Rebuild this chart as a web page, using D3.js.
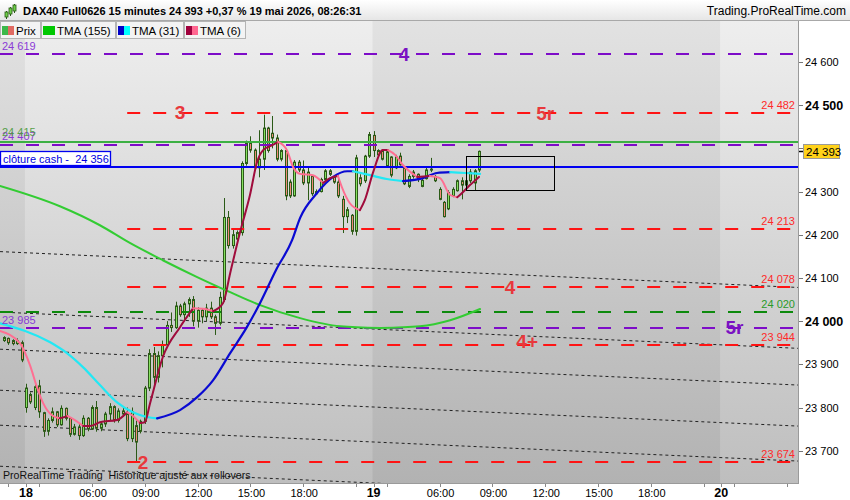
<!DOCTYPE html>
<html><head><meta charset="utf-8">
<script src="https://cdn.jsdelivr.net/npm/d3@7"></script>
<style>body{margin:0;background:#fff;} svg{display:block;font-family:"Liberation Sans",Arial,sans-serif;} .pre{white-space:pre;}</style>
</head><body><svg id="c" width="850" height="500"></svg>
<script>
// ---------- DATA ----------
const titleText = "DAX40 Full0626 15 minutes 24 393 +0,37 % 19 mai 2026, 08:26:31";
const siteText = "Trading.ProRealTime.com";
const footText = "ProRealTime Trading  Historique ajusté aux rollovers";
const legendLabels = ["Prix", "TMA (155)", "TMA (31)", "TMA (6)"];

// 15-minute candles, index 0 = first candle of the 18th
const firstIndex = -5;
const opens  = [23955,23960,23955,23948,23950, 23800,23830,23800,23850,23788,23745,23770,23790,23760,23798,23775,23738,23755,23735,23775,23750,23800,23752,23762,23785,23802,23770,23792,23785,23728,23758,23745,23768,23845,23925,23870,23920,23945,23990,23985,24035,24015,24040,24050,24000,24025,24010,24030,24010,23995,24050,24240,24175,24190,24205,24365,24412,24396,24355,24375,24447,24435,24424,24375,24395,24322,24290,24368,24350,24320,24335,24295,24300,24328,24348,24333,24322,24282,24242,24245,24208,24332,24325,24382, 24430,24395,24395,24360,24380,24355,24382,24355,24312,24335,24340,24312,24330,24350,24335,24305,24275,24260,24290,24302,24325,24315,24325,24320,24350];
const highs  = [23965,23962,23958,23960,23955, 23855,23835,23852,23864,23790,23775,23800,23792,23805,23800,23778,23762,23762,23782,23778,23805,23815,23768,23790,23810,23805,23798,23800,23800,23800,23770,23772,23850,23935,23940,23930,23955,24000,24020,24045,24040,24045,24055,24058,24032,24030,24040,24045,24015,24068,24285,24255,24215,24210,24370,24418,24428,24400,24442,24478,24450,24475,24432,24398,24400,24328,24373,24373,24372,24355,24338,24305,24332,24352,24352,24336,24336,24290,24264,24248,24385,24340,24385,24438, 24440,24398,24398,24396,24382,24385,24390,24357,24340,24350,24342,24330,24355,24378,24338,24310,24278,24303,24310,24328,24333,24330,24352,24352,24395];
const lows   = [23952,23945,23944,23945,23905, 23788,23808,23794,23776,23732,23735,23765,23755,23758,23770,23732,23735,23725,23732,23745,23748,23744,23745,23755,23770,23765,23765,23778,23722,23720,23674,23740,23762,23838,23848,23858,23893,23940,23975,23982,24010,24005,24010,23988,23985,23995,24000,24005,23968,23990,24045,24168,24168,24180,24198,24360,24390,24350,24333,24350,24390,24400,24370,24370,24280,24285,24288,24345,24315,24280,24290,24293,24298,24325,24336,24318,24285,24204,24227,24200,24198,24312,24320,24378, 24380,24378,24372,24355,24333,24352,24360,24315,24308,24330,24322,24310,24328,24345,24322,24280,24240,24257,24287,24300,24282,24312,24320,24303,24345];
const closes = [23962,23950,23948,23955,23910, 23845,23813,23848,23790,23745,23770,23790,23760,23798,23775,23738,23755,23735,23775,23750,23800,23752,23762,23785,23802,23770,23792,23785,23728,23790,23720,23768,23845,23925,23870,23920,23945,23990,23985,24035,24015,24040,24050,24000,24025,24010,24030,24010,23995,24055,24240,24175,24200,24205,24365,24412,24396,24355,24375,24447,24395,24424,24375,24395,24290,24290,24368,24350,24320,24345,24295,24300,24328,24348,24340,24322,24290,24242,24258,24208,24378,24318,24382,24432, 24395,24385,24375,24392,24338,24380,24362,24318,24335,24345,24328,24326,24350,24352,24325,24282,24242,24298,24305,24325,24315,24325,24345,24348,24393];

// moving averages: [candle index, value]
const tma155 = [[-5.9,24313],[7.7,24266],[16.8,24222],[23.6,24181],[31.1,24141],[38.9,24102],[46.4,24067],[53.2,24037],[62.3,24007],[71.4,23988],[80.5,23984],[89.5,23988],[96.4,24002],[103.2,24028]];
const tma31 = [[-5.9,23995],[5.5,23951],[9.3,23926],[13.0,23893],[16.8,23852],[20.7,23812],[24.3,23789],[27.5,23778],[29.8,23775],[35.0,23794],[38.9,23824],[42.5,23863],[46.4,23926],[50.2,23986],[53.2,24042],[56.8,24118],[60.5,24188],[62.3,24239],[66.1,24296],[69.8,24334],[73.0,24347],[74.3,24347],[78.2,24338],[82.0,24329],[85.7,24324],[90.2,24331],[93.4,24343],[96.4,24345],[99.8,24343],[103.2,24341]];
const tma6 = [[-5.9,23977],[-1.4,23949],[0.9,23898],[2.5,23847],[3.9,23810],[5.9,23782],[7.7,23775],[9.5,23780],[11.1,23771],[13.0,23757],[14.5,23757],[16.8,23766],[20.7,23771],[23.0,23789],[24.1,23782],[25.9,23764],[27.0,23766],[28.2,23810],[31.1,23917],[35.0,23986],[38.0,24030],[40.7,24028],[42.5,24023],[44.8,24042],[46.4,24111],[48.6,24204],[50.9,24292],[52.5,24368],[53.9,24396],[56.1,24408],[57.3,24415],[59.3,24396],[60.7,24357],[62.3,24341],[65.2,24338],[67.5,24320],[69.1,24331],[70.9,24336],[71.8,24310],[73.6,24273],[75.9,24257],[77.0,24280],[78.9,24345],[81.1,24396],[82.3,24396],[83.9,24385],[85.7,24361],[88.9,24334],[91.8,24336],[94.1,24331],[96.4,24292],[98.0,24287],[98.6,24292],[100.9,24315],[102.95,24334]];

// horizontal levels
const levelValues = [24619, 24482, 24407, 24213, 24078, 24020, 23985, 23944, 23674];
const levelKinds  = ["purple","red","purple","red","red","green","purple","red","red"];
const redStartIdx = 23;
const solidValues = [24415, 24356];
const solidKinds  = ["green","blue"];
const cashLabel = "clôture cash -  24 356";

// annotations on the chart
const annoTexts  = ["4","3","5r","4","5r","4+","2"];
const annoIdx    = [85.9, 35, 118, 110, 161, 113.9, 26.6];
const annoValues = [24619, 24484, 24482, 24078, 23985, 23954, 23674];
const annoKinds  = ["purple","red","red","red","purple","red","red"];

// dotted channel lines (value at start index, value at end index)
const channelIdx = [-5.9, 175.5];
const channelStart = [24161, 24021, 23935, 23840, 23759, 23664];
const channelEnd   = [24078, 23937, 23852, 23757, 23676, 23581];

// rectangle drawing
const boxIdx = [100, 120];
const boxValues = [24382, 24303];

// axes
const yTicks = [23700,23800,23900,24000,24100,24200,24300,24400,24500,24600];
const yBold = [24000, 24500];
const lastPrice = 24393;
const dayIdx = [0, 79, 158];
const dayLabels = ["18","19","20"];
const hourIdx = [15,27,39,51,63, 94,106,118,130,142];
const hourLabels = ["06:00","09:00","12:00","15:00","18:00","06:00","09:00","12:00","15:00","18:00"];
const minorTickIdx = [-4,3,75,82,154,161,173];

// ---------- DRAW ----------
const W=850, H=500, plotR=798, plotT=21, plotB=483;
const svg = d3.select("#c");
const x = d3.scaleLinear().domain([0,158]).range([26,721.2]);
const y = d3.scaleLinear().domain([23700,24600]).range([450.7,62]);
const fmt = v => d3.format(",")(v).replace(/,/g," ");

const defs = svg.append("defs");
function grad(id,c0,c1){const g=defs.append("linearGradient").attr("id",id).attr("x1",0).attr("y1",0).attr("x2",0).attr("y2",1);
  g.append("stop").attr("offset","0%").attr("stop-color",c0); g.append("stop").attr("offset","100%").attr("stop-color",c1);}
grad("bandLight","#eeeeee","#bebebe");
grad("bandDark","#e2e2e2","#b2b2b2");
grad("hdr","#ffffff","#e6e6e6");
defs.append("clipPath").attr("id","pc").append("rect").attr("x",0).attr("y",plotT).attr("width",plotR).attr("height",plotB-plotT);

svg.append("rect").attr("width",W).attr("height",H).attr("fill","#fff");
const plot = svg.append("g").attr("clip-path","url(#pc)");
plot.append("rect").attr("x",0).attr("y",plotT).attr("width",plotR).attr("height",plotB-plotT).attr("fill","url(#bandLight)");
// darker sessions: day before the 18th and the 19th
[[-30, dayIdx[0]],[dayIdx[1], dayIdx[2]]].forEach(([a,b])=>{
  plot.append("rect").attr("x",x(a-0.25)).attr("y",plotT).attr("width",x(b-0.25)-x(a-0.25)).attr("height",plotB-plotT).attr("fill","url(#bandDark)");
});

// channel lines
channelStart.forEach((v,k)=>{
  plot.append("line").attr("x1",x(channelIdx[0])).attr("y1",y(v)).attr("x2",x(channelIdx[1])).attr("y2",y(channelEnd[k]))
    .attr("stroke","#222").attr("stroke-width",1).attr("stroke-dasharray","3,3");
});

// candles
const cg = plot.append("g");
opens.forEach((o,k)=>{
  const i = firstIndex+k, h=highs[k], l=lows[k], c=closes[k];
  const cx = Math.round(x(i))+0.5;
  cg.append("line").attr("x1",cx).attr("x2",cx).attr("y1",y(h)).attr("y2",y(l)).attr("stroke","#2b5a17").attr("stroke-width",1);
  const top=y(Math.max(o,c)), bot=y(Math.min(o,c));
  cg.append("rect").attr("x",cx-1).attr("y",top).attr("width",2).attr("height",Math.max(1,bot-top))
    .attr("fill", c>=o ? "#86e060" : "#ef8a78").attr("stroke","#2b5a17").attr("stroke-width",1);
});

// levels
const lvlColor = {purple:"#7d0cc8", red:"#ff1414", green:"#0d8a0d"};
const lvlText  = {purple:"#8a3ad6", red:"#ff2a2a", green:"#2a9a2a"};
levelValues.forEach((v,k)=>{
  const kind = levelKinds[k];
  const x0 = kind==="red" ? x(redStartIdx) : 0;
  const yy = Math.round(y(v));
  plot.append("line").attr("x1",x0).attr("x2",plotR).attr("y1",yy).attr("y2",yy)
    .attr("stroke",lvlColor[kind]).attr("stroke-width",2).attr("stroke-dasharray","13,13");
});
const solidColor = {green:"#3cb043", blue:"#0000f0"};
solidValues.forEach((v,k)=>{
  const yy = Math.round(y(v));
  plot.append("line").attr("x1",0).attr("x2",plotR).attr("y1",yy).attr("y2",yy).attr("stroke",solidColor[solidKinds[k]]).attr("stroke-width",2);
});

// moving averages
const lineGen = d3.line().x(d=>x(d[0])).y(d=>y(d[1])).curve(d3.curveMonotoneX);
function drawMA(pts, upC, downC, w){
  const runs=[]; let cur=[pts[0]], dir=null;
  for(let k=1;k<pts.length;k++){
    const d = pts[k][1]>=pts[k-1][1] ? "up":"down";
    if(dir===null||d===dir){cur.push(pts[k]); dir=d;}
    else {runs.push({dir,pts:cur}); cur=[pts[k-1],pts[k]]; dir=d;}
  }
  runs.push({dir,pts:cur});
  runs.forEach(r=>plot.append("path").attr("d",lineGen(r.pts)).attr("fill","none")
    .attr("stroke", r.dir==="up"?upC:downC).attr("stroke-width",w).attr("stroke-linecap","round"));
}
drawMA(tma155,"#33cc33","#33cc33",2);
drawMA(tma31,"#0a0ad2","#22e8f4",2.2);
drawMA(tma6,"#a00c3c","#ff6f92",2);

// box
plot.append("rect").attr("x",Math.round(x(boxIdx[0]))+0.5).attr("y",Math.round(y(boxValues[0]))+0.5)
  .attr("width",Math.round(x(boxIdx[1])-x(boxIdx[0]))).attr("height",Math.round(y(boxValues[1])-y(boxValues[0])))
  .attr("fill","none").attr("stroke","#000").attr("stroke-width",1);

// level labels
levelValues.forEach((v,k)=>{
  const kind=levelKinds[k], yy=Math.round(y(v));
  if(kind==="purple"){
    plot.append("text").attr("x",2).attr("y",yy-(v===24407?5:4)).attr("font-size",11).attr("fill",lvlText.purple).text(fmt(v));
  } else {
    plot.append("text").attr("x",795).attr("y",yy-4).attr("text-anchor","end").attr("font-size",11).attr("fill",lvlText[kind]).text(fmt(v));
  }
});
plot.append("text").attr("x",2).attr("y",Math.round(y(solidValues[0]))-6).attr("font-size",11).attr("fill","#4a9a3a").attr("opacity",0.9).text(fmt(solidValues[0]));
// cash label box
const cy = Math.round(y(solidValues[1]));
plot.append("rect").attr("x",0.5).attr("y",cy-15.5).attr("width",110).attr("height",14).attr("fill","#fff").attr("stroke","#0000f0").attr("stroke-width",1.3);
plot.append("text").attr("class","pre").attr("x",3).attr("y",cy-4.5).attr("font-size",11).attr("fill","#0000e0").text(cashLabel);

// annotations
const annoColor = {purple:"#7a12c2", red:"#e8383c"};
annoTexts.forEach((t,k)=>{
  plot.append("text").attr("x",x(annoIdx[k])).attr("y",y(annoValues[k])).attr("dy","0.36em").attr("text-anchor","middle")
    .attr("font-size",19).attr("font-weight","bold").attr("fill",annoColor[annoKinds[k]]).text(t);
});

// footer text in plot
plot.append("text").attr("class","pre").attr("x",3).attr("y",479).attr("font-size",10.6).attr("fill","#111").text(footText);

// ---------- header ----------
svg.append("rect").attr("x",0).attr("y",0).attr("width",W).attr("height",20).attr("fill","url(#hdr)");
svg.append("line").attr("x1",0).attr("x2",W).attr("y1",20.5).attr("y2",20.5).attr("stroke","#a8a8a8");
// icon
[[6,10,15,8,17],[10,6,12,4,14],[14,3,9,1,11]].forEach(([cx,t,b,wt,wb])=>{
  svg.append("line").attr("x1",cx+0.5).attr("x2",cx+0.5).attr("y1",wt+3).attr("y2",wb+2).attr("stroke","#2b5a17");
  svg.append("rect").attr("x",cx-1).attr("y",t+2).attr("width",3).attr("height",b-t).attr("fill","#6fcf4a").attr("stroke","#2b5a17").attr("stroke-width",0.8);
});
svg.append("text").attr("x",23).attr("y",15).attr("font-size",11).attr("font-weight","bold").attr("fill","#000").text(titleText);
svg.append("text").attr("x",846).attr("y",15).attr("text-anchor","end").attr("font-size",12).attr("fill","#000").text(siteText);

// legend
const legColors = [["#3cb84a","#e06a62"],["#00c800","#00c800"],["#0000c8","#00ffff"],["#a0003c","#ff6690"]];
let bx = 0;
legendLabels.forEach((lab,k)=>{
  const g = svg.append("g");
  const r = g.append("rect").attr("x",bx+0.5).attr("y",21.5).attr("height",17).attr("fill","#f3f3f3").attr("stroke","#b4b4b4");
  g.append("rect").attr("x",bx+2).attr("y",26).attr("width",6).attr("height",9).attr("fill",legColors[k][0]);
  g.append("rect").attr("x",bx+8).attr("y",26).attr("width",6).attr("height",9).attr("fill",legColors[k][1]);
  const t = g.append("text").attr("x",bx+16).attr("y",34.5).attr("font-size",11.5).attr("fill","#000").text(lab);
  const w = t.node().getComputedTextLength();
  const bw = Math.round(16 + w + 4);
  r.attr("width",bw);
  bx += bw + 1;
});

// ---------- right axis ----------
svg.append("rect").attr("x",plotR).attr("y",plotT).attr("width",W-plotR).attr("height",plotB-plotT).attr("fill","#fff");
svg.append("line").attr("x1",plotR+0.5).attr("x2",plotR+0.5).attr("y1",plotT).attr("y2",plotB).attr("stroke","#9a9a9a");
yTicks.forEach(v=>{
  const yy=Math.round(y(v))+0.5;
  svg.append("line").attr("x1",plotR+1).attr("x2",plotR+5).attr("y1",yy).attr("y2",yy).attr("stroke","#777");
  const b = yBold.includes(v);
  svg.append("text").attr("x",805).attr("y",yy).attr("dy","0.36em").attr("font-size",b?12.5:11).attr("font-weight",b?"bold":"normal").attr("fill","#000").text(fmt(v));
});
const py = Math.round(y(lastPrice));
svg.append("line").attr("x1",plotR+1).attr("x2",plotR+5).attr("y1",py+0.5).attr("y2",py+0.5).attr("stroke","#000").attr("stroke-width",1.5);
svg.append("rect").attr("x",803.5).attr("y",py-6.5).attr("width",36).attr("height",14).attr("fill","#ffd21a").attr("stroke","#9a9a9a");
svg.append("text").attr("x",806).attr("y",py+0.5).attr("dy","0.36em").attr("font-size",11.5).attr("fill","#000").text(fmt(lastPrice));

// ---------- bottom axis ----------
svg.append("rect").attr("x",0).attr("y",plotB).attr("width",W).attr("height",H-plotB).attr("fill","#fff");
svg.append("line").attr("x1",0).attr("x2",plotR+1).attr("y1",plotB+0.5).attr("y2",plotB+0.5).attr("stroke","#9a9a9a");
dayIdx.concat(hourIdx, minorTickIdx).forEach(i=>{
  const xx=Math.round(x(i))+0.5;
  svg.append("line").attr("x1",xx).attr("x2",xx).attr("y1",plotB+1).attr("y2",plotB+4).attr("stroke","#888");
});
dayIdx.forEach((i,k)=>svg.append("text").attr("x",x(i)).attr("y",497).attr("text-anchor","middle").attr("font-size",12.5).attr("font-weight","bold").attr("fill","#000").text(dayLabels[k]));
hourIdx.forEach((i,k)=>svg.append("text").attr("x",x(i)+1).attr("y",497).attr("text-anchor","middle").attr("font-size",11).attr("fill","#000").text(hourLabels[k]));
</script>
</body></html>
